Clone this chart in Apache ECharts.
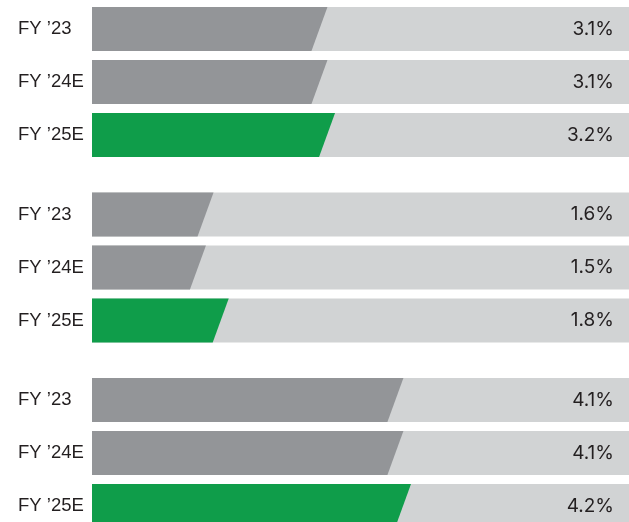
<!DOCTYPE html>
<html>
<head>
<meta charset="utf-8">
<script src="https://cdn.jsdelivr.net/npm/echarts@6/dist/echarts.min.js"></script>
<style>
  html, body { margin: 0; padding: 0; background: #fff; }
  #chart { width: 629px; height: 522px; }
</style>
</head>
<body>
<div id="chart"></div>
<script>
(function () {
  'use strict';

  // three groups of three years each
  var years = ['FY \u201923', 'FY \u201924E', 'FY \u201925E'];
  var groupA = [3.1, 3.1, 3.2];
  var groupB = [1.6, 1.5, 1.8];
  var groupC = [4.1, 4.1, 4.2];
  var groups = [groupA, groupB, groupC];
  var scaleMax = 7.07;

  var dark = '#939598';
  var light = '#d1d3d4';
  var green = '#0f9d4a';
  var ink = '#231f20';
  var barH = 44;
  var slant = 16;
  var groupGap = 0.5; // extra row slot between groups

  // [value, row position, year index]
  var rows = [];
  groups.forEach(function (vals, g) {
    vals.forEach(function (v, i) {
      rows.push([v, g * (years.length + groupGap) + i, i]);
    });
  });

  function slantBar(params, api) {
    var pos = api.value(1);
    var yi = api.value(2);
    var end = api.coord([api.value(0), pos]);
    var start = api.coord([0, pos]);
    var full = api.coord([scaleMax, pos]);
    var cy = end[1];
    var top = cy - barH / 2, bot = cy + barH / 2;
    return {
      type: 'group',
      children: [
        {
          type: 'rect',
          shape: { x: start[0], y: top, width: full[0] - start[0], height: barH },
          style: { fill: light }
        },
        {
          type: 'polygon',
          shape: {
            points: [
              [start[0], top], [end[0], top],
              [end[0] - slant, bot], [start[0], bot]
            ]
          },
          style: { fill: yi === 2 ? green : dark }
        },
        {
          type: 'text',
          style: {
            x: 18, y: cy, text: years[yi],
            fill: ink, fontSize: 18.5,
            fontFamily: '"Liberation Sans", Arial, sans-serif',
            align: 'left', verticalAlign: 'middle'
          }
        },
        {
          type: 'text',
          style: {
            x: full[0] - 15, y: cy, text: api.value(0).toFixed(1) + '%',
            fill: ink, fontSize: 19, fontFamily: 'Inter, sans-serif',
            align: 'right', verticalAlign: 'middle'
          }
        }
      ]
    };
  }

  echarts.init(document.getElementById('chart')).setOption({
    animation: false,
    grid: { left: 92, right: 0, top: 0, bottom: 0 },
    xAxis: { type: 'value', min: 0, max: scaleMax, show: false },
    yAxis: {
      type: 'value', inverse: true, show: false,
      min: -29 / 53, max: -29 / 53 + 522 / 53
    },
    series: [{
      type: 'custom',
      renderItem: slantBar,
      encode: { x: 0, y: 1 },
      clip: false,
      data: rows
    }]
  });
})();
</script>
</body>
</html>
